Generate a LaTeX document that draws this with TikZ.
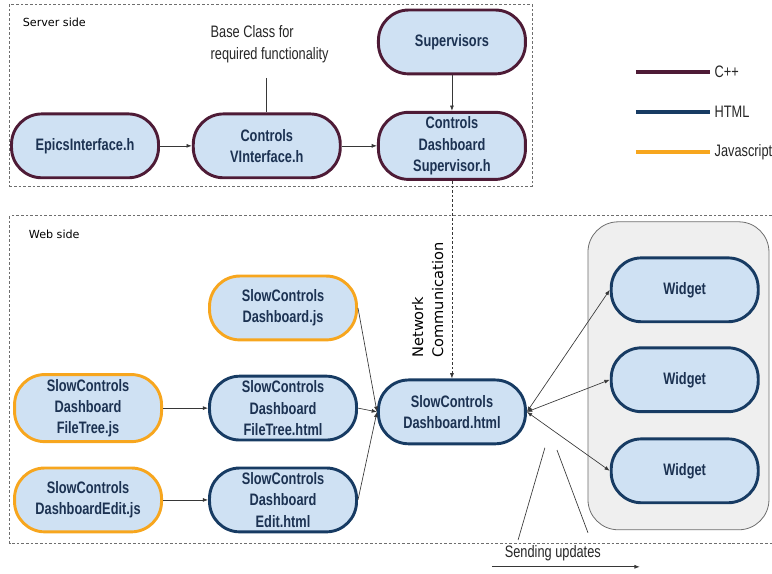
\documentclass[tikz,border=0pt]{standalone}
\usepackage{fontspec}
\setmainfont[FakeStretch=0.77]{Liberation Sans}
\newfontfamily\dejavu{DejaVu Sans}
\usetikzlibrary{arrows.meta}
\definecolor{cppcol}{RGB}{78,27,54}
\definecolor{htmlcol}{RGB}{23,59,99}
\definecolor{jscol}{RGB}{247,166,30}
\definecolor{fillcol}{RGB}{207,225,243}
\definecolor{textcol}{RGB}{28,50,82}
\definecolor{boxfill}{RGB}{239,239,239}
\definecolor{boxline}{RGB}{110,110,110}
\definecolor{linecol}{RGB}{55,55,55}
\begin{document}
\begin{tikzpicture}[
  main/.style={rectangle, rounded corners=0.8cm, draw, line width=2.2pt, fill=fillcol, minimum width=3.89cm, minimum height=1.69cm, align=center, text=textcol, font=\fontsize{12.5}{16.1}\selectfont\bfseries},
  cppnode/.style={main, draw=cppcol},
  htmlnode/.style={main, draw=htmlcol},
  jsnode/.style={main, draw=jscol},
  link/.style={draw=linecol, line width=0.5pt, -{Latex[length=4pt,width=3pt]}},
  wlink/.style={draw=linecol, line width=0.5pt, {Latex[length=4pt,width=3pt]}-{Latex[length=4pt,width=3pt]}},
  region/.style={draw=boxline, dash pattern=on 2pt off 1.5pt, line width=0.5pt},
  legend/.style={line width=3pt},
  plain/.style={text=black!85, font=\fontsize{12.5}{16.5}\selectfont},
  small/.style={text=black, font=\dejavu\fontsize{8.4}{10}\selectfont}
]
\useasboundingbox (0,0) rectangle (20.43,-15.19);

\draw[region] (0.26,-0.11) rectangle (14.08,-4.92);
\draw[region] (20.43,-5.71) -- (0.26,-5.71) -- (0.26,-14.39) -- (20.43,-14.39);
\draw[draw=boxline, fill=boxfill, line width=0.6pt, rounded corners=0.8cm] (15.56,-5.87) rectangle (20.35,-14.02);

\node[small, anchor=west] (server) at (0.48,-0.58) {Server side};
\node[small, anchor=west] (web) at (0.64,-6.19) {Web side};

\node[cppnode] (epics) at (2.25,-3.86) {EpicsInterface.h};
\node[cppnode] (ctrlv) at (7.06,-3.86) {Controls\\VInterface.h};
\node[cppnode] (suph) at (11.96,-3.86) {Controls\\Dashboard\\Supervisor.h};
\node[cppnode] (sups) at (11.96,-1.11) {Supervisors};
\node[plain, align=left, anchor=west] (base) at (5.45,-1.16) {Base Class for\\required functionality};
\coordinate (baseend) at (7.06,-2.06);

\node[jsnode] (djs) at (7.49,-8.15) {SlowControls\\Dashboard.js};
\node[htmlnode] (fthtml) at (7.49,-10.80) {SlowControls\\Dashboard\\FileTree.html};
\node[htmlnode] (edhtml) at (7.49,-13.23) {SlowControls\\Dashboard\\Edit.html};
\node[jsnode] (ftjs) at (2.33,-10.80) {SlowControls\\Dashboard\\FileTree.js};
\node[jsnode] (edjs) at (2.33,-13.23) {SlowControls\\DashboardEdit.js};
\node[htmlnode] (dhtml) at (11.96,-10.90) {SlowControls\\Dashboard.html};

\node[htmlnode] (w1) at (18.12,-7.67) {Widget};
\node[htmlnode] (w2) at (18.12,-10.05) {Widget};
\node[htmlnode] (w3) at (18.12,-12.46) {Widget};

\node[rotate=90, align=left, text=black, font=\dejavu\fontsize{11}{15}\selectfont] (net) at (11.32,-7.94) {Network\\Communication};

\draw[legend, cppcol] (16.83,-1.90) -- (18.79,-1.90) node[plain, right, inner sep=2pt] {C++};
\draw[legend, htmlcol] (16.83,-2.96) -- (18.79,-2.96) node[plain, right, inner sep=2pt] {HTML};
\draw[legend, jscol] (16.83,-4.02) -- (18.79,-4.02) node[plain, right, inner sep=2pt] {Javascript};

\draw[link] (epics) -- (ctrlv);
\draw[link] (ctrlv) -- (suph);
\draw[link] (sups) -- (suph);
\draw[draw=linecol, line width=0.5pt] (baseend) -- (ctrlv);
\draw[link, dash pattern=on 2pt off 1.5pt] (suph) -- (dhtml);

\draw[link] (ftjs) -- (fthtml);
\draw[link] (edjs) -- (edhtml);
\draw[link] (djs.east) -- (dhtml.west);
\draw[link] (fthtml.east) -- (dhtml.west);
\draw[link] (edhtml.east) -- (dhtml.west);

\draw[wlink] (dhtml.east) -- (w1.west);
\draw[wlink] (dhtml.east) -- (w2.west);
\draw[wlink] (dhtml.east) -- (w3.west);

\coordinate (su1a) at (14.42,-11.85);
\coordinate (su1b) at (13.71,-14.29);
\coordinate (su2a) at (14.74,-11.91);
\coordinate (su2b) at (15.56,-14.10);
\draw[draw=linecol, line width=0.5pt] (su1a) -- (su1b);
\draw[draw=linecol, line width=0.5pt] (su2a) -- (su2b);
\node[plain] (sending) at (14.63,-14.63) {Sending updates};
\coordinate (sendl) at (13.02,-15.00);
\coordinate (sendr) at (16.93,-15.00);
\draw[link] (sendl) -- (sendr);
\end{tikzpicture}
\end{document}
